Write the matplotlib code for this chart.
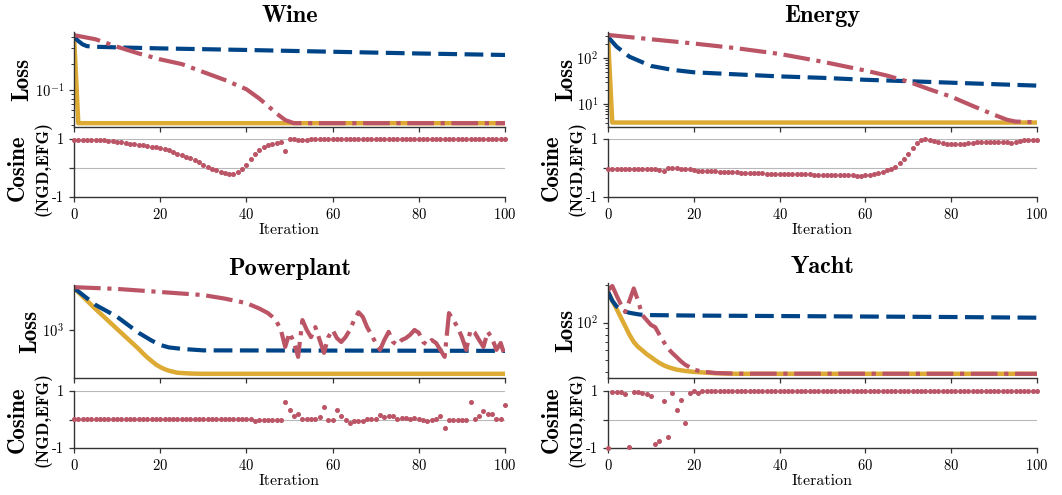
import numpy as np
import matplotlib
matplotlib.use("Agg")
import matplotlib.pyplot as plt
from matplotlib.ticker import FixedLocator, NullLocator, NullFormatter, LogLocator

plt.rcParams['font.family'] = ['cmr10', 'DejaVu Serif']
plt.rcParams['mathtext.fontset'] = 'cm'
plt.rcParams['axes.formatter.use_mathtext'] = True
plt.rcParams['font.size'] = 10.5

BLUE = "#004488"
YELLOW = "#DDAA33"
RED = "#BB5566"

# ==== Loss curves (iteration, value) ====
wine_yel_x = [0, 1, 100]
wine_yel_y = [0.42, 0.042, 0.042]
wine_blue_x = [0, 1, 2, 3, 5, 10, 20, 40, 60, 80, 100]
wine_blue_y = [0.40, 0.36, 0.33, 0.315, 0.31, 0.305, 0.297, 0.285, 0.272, 0.26, 0.25]
wine_red_x = [0, 5, 10, 15, 20, 25, 30, 35, 40, 43, 45, 47, 49, 51, 100]
wine_red_y = [0.42, 0.377, 0.31, 0.26, 0.223, 0.197, 0.16, 0.13, 0.102, 0.080, 0.066,
              0.054, 0.0456, 0.042, 0.042]

energy_yel_x = [0, 1, 100]
energy_yel_y = [300, 4.0, 4.0]
energy_blue_x = [0, 2, 5, 10, 15, 20, 30, 40, 50, 60, 70, 80, 90, 100]
energy_blue_y = [291, 179, 108, 68, 56, 49.5, 44.6, 40.3, 37.5, 34, 31.7, 29.4, 27.3, 25.4]
energy_red_x = [0, 10, 20, 30, 40, 50, 60, 65, 70, 75, 80, 85, 90, 93, 95, 100]
energy_red_y = [321, 259, 209, 165, 124, 84, 54, 42, 31, 21, 14.6, 9.2, 5.9, 4.6, 4.2, 4.05]

power_yel_x = [0, 5, 10, 15, 16, 17, 18, 19, 20, 21, 22, 24, 27, 30, 100]
power_yel_y = [1092, 1045, 1002, 961, 952, 944, 937, 930, 925, 921, 918, 914, 912.5, 912, 912]
power_blue_x = [0, 5, 10, 15, 18, 20, 22, 25, 30, 100]
power_blue_y = [1092, 1054, 1028, 994, 978, 969, 964, 961, 958, 957]
power_red_x = [0, 10, 20, 30, 35, 40, 43, 45, 46, 47] + list(range(48, 101))
power_red_y = [1094, 1090, 1083, 1076, 1068, 1058, 1046, 1036, 1028, 1018,
               1000, 965, 994, 975, 945, 1021, 1000, 985, 1006, 979,
               953, 985, 1000, 983, 975, 985, 1000, 1021, 1038, 1028,
               1006, 990, 973, 959, 979, 996, 975, 969, 979, 983,
               990, 1000, 994, 975, 969, 979, 973, 959, 945, 1036,
               1021, 1006, 985, 959, 1000, 994, 979, 965, 996, 983,
               959, 973, 945]

yacht_yel_x = list(range(0, 17)) + [18, 20, 25, 30, 100]
yacht_yel_y = [177, 150, 129, 110, 94, 80, 70, 64, 60, 56, 53, 50, 47.5, 45.5, 44, 43,
               42, 41, 40.3, 39.3, 38.9, 38.9]
yacht_blue_x = [0, 1, 2, 3, 5, 7.5, 10, 20, 40, 60, 80, 100]
yacht_blue_y = [177, 150, 135, 126, 120, 116, 115, 114, 113, 112, 111, 109.6]
yacht_red_x = list(range(0, 21)) + [22, 25, 30, 100]
yacht_red_y = [182, 197, 165, 140, 122, 150, 188, 150, 115, 105, 96, 92, 80, 70, 62, 57,
               53, 49, 46, 44, 42, 40.5, 39.5, 39, 38.9]

# ==== Cosine(NGD, EFG) per iteration ====
iters = np.arange(101)
wine_cos = [0.96, 0.96, 0.96, 0.96, 0.96, 0.96, 0.96, 0.95, 0.94, 0.92,
            0.90, 0.88, 0.86, 0.84, 0.82, 0.80, 0.78, 0.76, 0.74, 0.71,
            0.68, 0.65, 0.61, 0.56, 0.50, 0.44, 0.38, 0.33, 0.27, 0.20,
            0.12, 0.05, -0.02, -0.08, -0.14, -0.18, -0.20, -0.20, -0.15, -0.03,
            0.12, 0.31, 0.47, 0.62, 0.73, 0.79, 0.84, 0.87, 0.91, 0.58,
            0.99, 0.99, 0.98, 0.98, 0.98, 0.99, 0.99, 0.99, 0.99, 0.99] + [0.99] * 41
energy_cos = [-0.02] * 12 + [-0.08, -0.12, 0.0, 0.0, -0.01, -0.02, -0.04, -0.05,
              -0.07, -0.09, -0.10, -0.11, -0.12, -0.12, -0.13, -0.14, -0.14, -0.15,
              -0.15, -0.16, -0.16, -0.17, -0.17, -0.18, -0.18, -0.19, -0.19, -0.20,
              -0.20, -0.20, -0.21, -0.21, -0.21, -0.22, -0.22, -0.22, -0.23, -0.23,
              -0.23, -0.24, -0.24, -0.24, -0.25, -0.25, -0.25, -0.25, -0.26, -0.26,
              -0.25, -0.23, -0.20, -0.17, -0.13, -0.08, -0.03, 0.05, 0.17, 0.32,
              0.50, 0.68, 0.85, 0.97, 1.00, 0.97, 0.93, 0.90, 0.86, 0.83,
              0.82, 0.82, 0.83, 0.84, 0.85, 0.87, 0.88, 0.88, 0.89, 0.89,
              0.89, 0.88, 0.88, 0.89, 0.87, 0.90, 0.93, 0.95, 0.97, 0.98, 0.98]
power_cos = [0.03] * 42 + [-0.05, 0.0, 0.0, 0.0, 0.0, 0.0, 0.0,
             0.61, 0.32, 0.13, 0.18, 0.02, 0.02, 0.02, 0.02, 0.09, 0.44, 0.0,
             0.0, 0.35, 0.13, -0.02, -0.12, -0.05, -0.05, -0.05, 0.02, 0.02,
             0.02, 0.17, 0.09, 0.11, 0.12, 0.03, 0.07, 0.07, 0.03, 0.07,
             0.03, 0.0, -0.05, -0.02, 0.03, 0.12, -0.31, 0.0, 0.0, 0.0,
             0.0, 0.0, 0.61, 0.02, 0.11, 0.29, 0.21, 0.18, 0.03, 0.03, 0.50]
yacht_cos = [-1.0, 0.97, 0.97, 0.95, 0.89, -0.98, 0.95, 0.95, 0.92, 0.89,
             0.83, -0.86, -0.76, 0.64, -0.60, 0.94, 0.35, 0.69, -0.14, 0.93,
             0.99, 0.93] + [0.99] * 79

# ==== Panels ====
panels = [
    ("Wine", (74, 32, 505, 127, 139, 197), (0.038, 0.456), -52,
     (wine_yel_x, wine_yel_y), (wine_blue_x, wine_blue_y), (wine_red_x, wine_red_y), wine_cos),
    ("Energy", (608, 32, 1037, 127, 139, 197), (3.2, 372), -42,
     (energy_yel_x, energy_yel_y), (energy_blue_x, energy_blue_y), (energy_red_x, energy_red_y), energy_cos),
    ("Powerplant", (74, 285, 505, 378, 391, 448), (904, 1099), -44,
     (power_yel_x, power_yel_y), (power_blue_x, power_blue_y), (power_red_x, power_red_y), power_cos),
    ("Yacht", (608, 283, 1037, 378, 391, 448), (36, 208), -42,
     (yacht_yel_x, yacht_yel_y), (yacht_blue_x, yacht_blue_y), (yacht_red_x, yacht_red_y), yacht_cos),
]

W, H = 1062, 495
fig = plt.figure(figsize=(W / 100, H / 100), dpi=100)


def box(x0, y0, x1, y1):
    return [x0 / W, 1 - y1 / H, (x1 - x0) / W, (y1 - y0) / H]


def style(ax):
    for s in ["top", "right"]:
        ax.spines[s].set_visible(False)
    for s in ["left", "bottom"]:
        ax.spines[s].set_color("#333333")
        ax.spines[s].set_linewidth(1.0)
    ax.tick_params(which="major", direction="out", length=3.5, width=0.9, color="#333333")
    ax.tick_params(which="minor", direction="out", length=2, width=0.7, color="#333333")


for title, (x0, y0, x1, y1, c0, c1), ylim, loss_off, yel, blue, red, cos in panels:
    ax = fig.add_axes(box(x0, y0, x1, y1))
    ax.plot(yel[0], yel[1], color=YELLOW, lw=3.2, solid_capstyle="butt")
    ax.plot(blue[0], blue[1], color=BLUE, lw=3, dashes=(4.5, 1.8))
    ax.plot(red[0], red[1], color=RED, lw=3, linestyle="-.")
    ax.set_yscale("log")
    ax.set_xlim(0, 100)
    ax.set_ylim(*ylim)
    if title == "Powerplant":
        ax.yaxis.set_major_locator(FixedLocator([1000]))
        ax.yaxis.set_minor_locator(NullLocator())
    else:
        ax.yaxis.set_minor_locator(LogLocator(base=10, subs=np.arange(2, 10)))
    ax.yaxis.set_minor_formatter(NullFormatter())
    ax.set_xticks(range(0, 101, 20))
    ax.tick_params(axis="x", labelbottom=False)
    style(ax)
    ax.set_title(title, family="cmb10", fontsize=17.5, pad=7)
    ax.text(loss_off / (x1 - x0), 0.5, "Loss", transform=ax.transAxes, rotation=90,
            ha="center", va="center", family="cmb10", fontsize=16.5)

    cx = fig.add_axes(box(x0, c0, x1, c1))
    cx.axhline(0, color="#b8b8b8", lw=0.8, zorder=0)
    cx.axhline(1, color="#b8b8b8", lw=0.8, zorder=0)
    cx.plot(iters, cos, "o", ms=2.6, color=RED, clip_on=False, zorder=3)
    cx.set_xlim(0, 100)
    cx.set_ylim(-1, 1)
    cx.set_yticks([-1, 0, 1])
    cx.set_yticklabels(["-1", "", "1"])
    cx.set_xticks(range(0, 101, 20))
    style(cx)
    cx.set_xlabel("Iteration", fontsize=11.5, labelpad=1)
    cx.text(-56 / (x1 - x0), 0.5, "Cosine", transform=cx.transAxes, rotation=90,
            ha="center", va="center", family="cmb10", fontsize=16.5)
    cx.text(-31 / (x1 - x0), 0.5, "(NGD,EFG)", transform=cx.transAxes, rotation=90,
            ha="center", va="center", family="cmb10", fontsize=12.5)

fig.savefig("out.png", dpi=100)
